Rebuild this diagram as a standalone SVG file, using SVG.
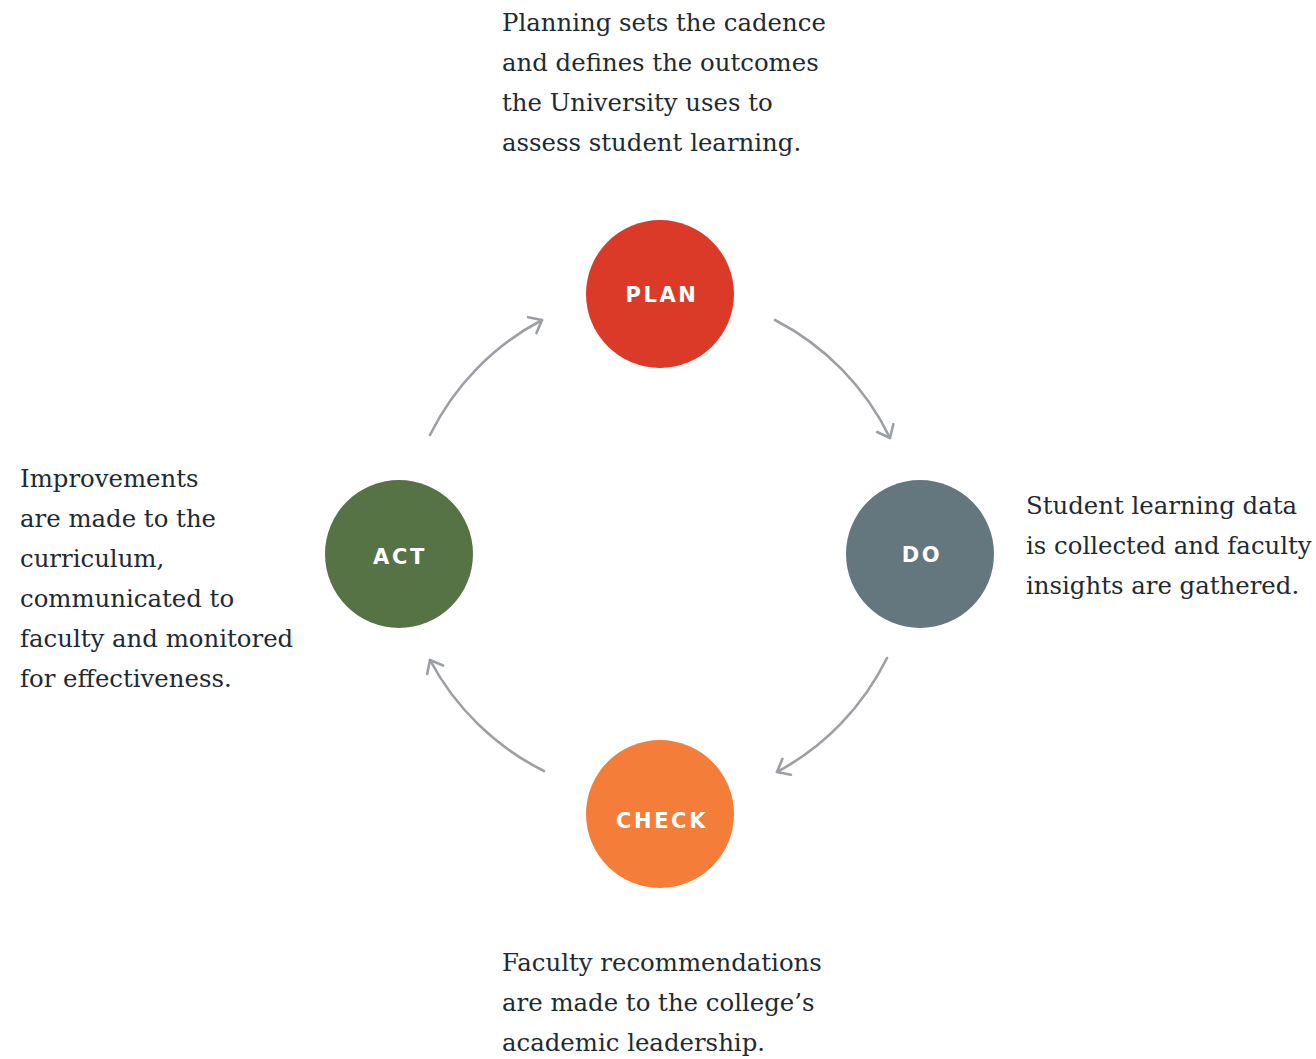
<svg xmlns="http://www.w3.org/2000/svg" width="1316" height="1059" viewBox="0 0 1316 1059">
<style>
.t{font-family:"DejaVu Serif","Liberation Serif",serif;font-size:24.4px;fill:#1e2a31}
.l{font-family:"DejaVu Sans","Liberation Sans",sans-serif;font-weight:bold;font-size:21px;fill:#fff;letter-spacing:2.6px;text-anchor:middle}
.c{fill:none;stroke:#9c9fa4;stroke-width:2.6;stroke-linecap:round}
</style>
<defs>
<marker id="ah" viewBox="0 0 22 22" refX="15" refY="11" markerWidth="22" markerHeight="22" markerUnits="userSpaceOnUse" orient="auto">
<path d="M4,2 L15,11 L4,20" fill="none" stroke="#9c9fa4" stroke-width="2.6" stroke-linecap="round" stroke-linejoin="round"/>
</marker>
</defs>
<rect width="1316" height="1059" fill="#fff"/>
<g id="connectors">
<path class="c" d="M775,320 A260,260 0 0 1 890,438" marker-end="url(#ah)"/>
<path class="c" d="M887,658 A260,260 0 0 1 777,772" marker-end="url(#ah)"/>
<path class="c" d="M544,771 A260,260 0 0 1 430,660" marker-end="url(#ah)"/>
<path class="c" d="M430,435 A260,260 0 0 1 542,320" marker-end="url(#ah)"/>
</g>
<g id="plan"><circle cx="660" cy="294" r="74" fill="#db3a28"/><text class="l" x="662" y="302">PLAN</text></g>
<g id="do"><circle cx="920" cy="554" r="74" fill="#64777f"/><text class="l" x="922" y="562">DO</text></g>
<g id="check"><circle cx="660" cy="814" r="74" fill="#f47d3a"/><text class="l" x="662" y="828">CHECK</text></g>
<g id="act"><circle cx="399" cy="554" r="74" fill="#567346"/><text class="l" x="400" y="564">ACT</text></g>
<g id="plan-text"><text class="t" x="502" y="31">Planning sets the cadence</text><text class="t" x="502" y="71">and defines the outcomes</text><text class="t" x="502" y="111">the University uses to</text><text class="t" x="502" y="151">assess student learning.</text></g>
<g id="do-text"><text class="t" x="1026" y="514">Student learning data</text><text class="t" x="1026" y="554">is collected and faculty</text><text class="t" x="1026" y="594">insights are gathered.</text></g>
<g id="check-text"><text class="t" x="502" y="971">Faculty recommendations</text><text class="t" x="502" y="1011">are made to the college’s</text><text class="t" x="502" y="1051">academic leadership.</text></g>
<g id="act-text"><text class="t" x="20" y="487">Improvements</text><text class="t" x="20" y="527">are made to the</text><text class="t" x="20" y="567">curriculum,</text><text class="t" x="20" y="607">communicated to</text><text class="t" x="20" y="647">faculty and monitored</text><text class="t" x="20" y="687">for effectiveness.</text></g>
</svg>
